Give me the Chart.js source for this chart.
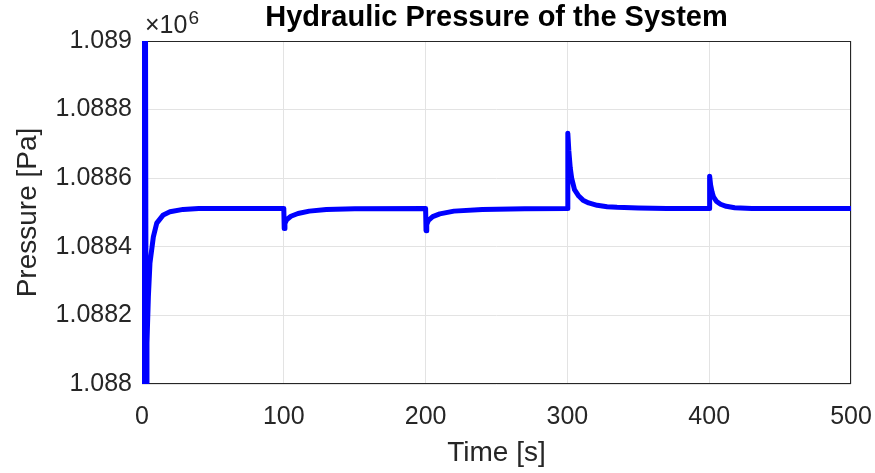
<!DOCTYPE html>
<html>
<head>
<meta charset="utf-8">
<script src="https://cdn.jsdelivr.net/npm/chart.js@4.4.1/dist/chart.umd.min.js"></script>
<style>
    html, body { margin: 0; padding: 0; background: #ffffff; }
    #wrap { width: 875px; height: 473px; }
</style>
</head>
<body>
<div id="wrap"><canvas id="pressureChart" width="875" height="473"></canvas></div>
<script>
// time [s] and pressure [Pa]
const timeS = [
    0, 0.6, 1.2, 1.8, 2.4, 3.0, 3.5, 4.5, 5.6, 8, 10.4, 15, 19.7, 29, 40, 60,
    100, 100.3, 100.8, 102, 105, 110, 118, 130, 150,
    200, 200.3, 200.8, 202, 205, 210, 220, 240, 270,
    300, 300.3, 301, 302, 303, 305, 308, 311, 315, 321, 328, 335, 350, 370,
    400, 400.3, 401, 402, 403, 405, 408, 412, 418, 430, 500
];
const pressurePa = [
    1089300, 1087700, 1089300, 1087700, 1089200, 1087800, 1088120, 1088255, 1088352, 1088429, 1088469, 1088493, 1088502, 1088509, 1088512, 1088512,
    1088512, 1088453, 1088468, 1088479, 1088489, 1088497, 1088504, 1088509, 1088511,
    1088512, 1088447, 1088465, 1088477, 1088488, 1088496, 1088504, 1088509, 1088511,
    1088512, 1088731, 1088680, 1088630, 1088600, 1088567, 1088548, 1088536, 1088528, 1088521, 1088517, 1088515, 1088513, 1088512,
    1088512, 1088606, 1088580, 1088560, 1088546, 1088533, 1088524, 1088518, 1088514, 1088512, 1088512
];
const xTicks = [0, 100, 200, 300, 400, 500];
const yTicks = [1088000, 1088200, 1088400, 1088600, 1088800, 1089000];

const FONT = "'Liberation Sans', Arial, Helvetica, sans-serif";
const TEXT = "#262626";
const GRID = "#e3e3e3";

const points = timeS.map((t, i) => ({ x: t, y: pressurePa[i] }));

// box round the axes + the x10^6 exponent label
const matlabBox = {
    id: "matlabBox",
    beforeDatasetsDraw(chart) {
        const { ctx, chartArea } = chart;
        ctx.save();
        ctx.strokeStyle = TEXT;
        ctx.lineWidth = 1;
        ctx.strokeRect(chartArea.left + 0.5, chartArea.top + 0.5,
            chartArea.right - chartArea.left - 1, chartArea.bottom - chartArea.top - 1);
        ctx.restore();
    },
    afterDraw(chart) {
        const { ctx, chartArea } = chart;
        ctx.save();
        ctx.fillStyle = TEXT;
        ctx.textBaseline = "alphabetic";
        ctx.textAlign = "left";
        ctx.font = "25px " + FONT;
        ctx.fillText("\u00d710", chartArea.left + 3, 33);
        let w = ctx.measureText("\u00d710").width;
        ctx.font = "19px " + FONT;
        ctx.fillText("6", chartArea.left + 4 + w, 24);
        ctx.restore();
    }
};

new Chart(document.getElementById("pressureChart"), {
    type: "line",
    data: {
        datasets: [{
            label: "Pressure",
            data: points,
            borderColor: "#0000ff",
            borderWidth: 5,
            pointRadius: 0,
            fill: false,
            tension: 0,
            borderJoinStyle: "round",
            borderCapStyle: "round",
            clip: 0
        }]
    },
    options: {
        responsive: false,
        animation: false,
        devicePixelRatio: 1,
        layout: { padding: { top: 0, right: 24, left: 0, bottom: 0 } },
        plugins: {
            legend: { display: false },
            tooltip: { enabled: false },
            title: {
                display: true,
                text: "Hydraulic Pressure of the System",
                color: "#000000",
                fullSize: false,
                font: { family: FONT, size: 29, weight: "bold", lineHeight: 1.2 },
                padding: { top: 1, bottom: 5.2 }
            }
        },
        scales: {
            x: {
                type: "linear",
                min: 0,
                max: 500,
                afterBuildTicks: (scale) => { scale.ticks = xTicks.map(v => ({ value: v })); },
                afterFit: (scale) => {
                    scale.height = 89;
                    scale.paddingLeft = 0;
                    scale.paddingRight = 0;
                },
                grid: { color: GRID, drawTicks: false },
                border: { display: false },
                ticks: {
                    color: TEXT,
                    padding: 18,
                    maxRotation: 0,
                    font: { family: FONT, size: 25 }
                },
                title: {
                    display: true,
                    text: "Time [s]",
                    color: TEXT,
                    font: { family: FONT, size: 28, lineHeight: 1.2 },
                    padding: { top: 0, bottom: 3 }
                }
            },
            y: {
                type: "linear",
                min: 1088000,
                max: 1089000,
                afterBuildTicks: (scale) => { scale.ticks = yTicks.map(v => ({ value: v })); },
                afterFit: (scale) => {
                    scale.width = 142;
                    scale.paddingTop = 0;
                    scale.paddingBottom = 0;
                },
                grid: { color: GRID, drawTicks: false },
                border: { display: false },
                ticks: {
                    color: TEXT,
                    padding: 10,
                    font: { family: FONT, size: 25 },
                    callback: (v) => parseFloat((v / 1e6).toFixed(4)).toString()
                },
                title: {
                    display: true,
                    text: "Pressure [Pa]",
                    color: TEXT,
                    font: { family: FONT, size: 28, lineHeight: 1.2 },
                    padding: { top: 11, bottom: 0 }
                }
            }
        }
    },
    plugins: [matlabBox]
});
</script>
</body>
</html>
